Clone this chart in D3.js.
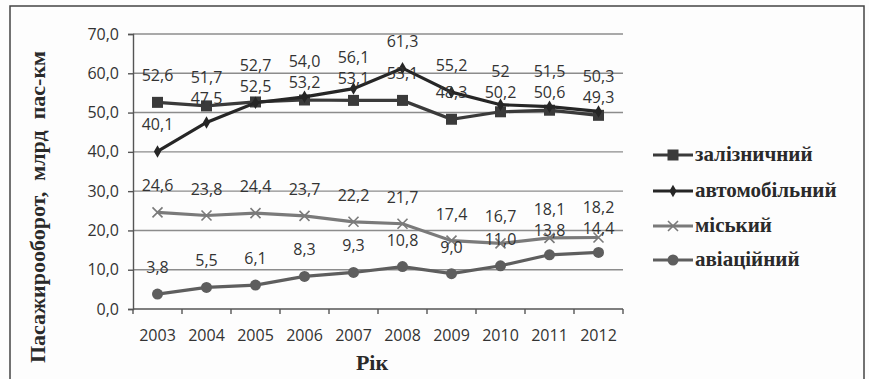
<!DOCTYPE html>
<html>
<head>
<meta charset="utf-8">
<script src="https://cdn.jsdelivr.net/npm/d3@7"></script>
<style>
  body { margin: 0; background: #fff; }
  svg { display: block; }
</style>
</head>
<body>
<div id="chart"></div>
<script>
const years = ["2003", "2004", "2005", "2006", "2007", "2008", "2009", "2010", "2011", "2012"];
const railway = [52.6, 51.7, 52.7, 53.2, 53.1, 53.1, 48.3, 50.2, 50.6, 49.3];
const automobile = [40.1, 47.5, 52.5, 54.0, 56.1, 61.3, 55.2, 52, 51.5, 50.3];
const city = [24.6, 23.8, 24.4, 23.7, 22.2, 21.7, 17.4, 16.7, 18.1, 18.2];
const aviation = [3.8, 5.5, 6.1, 8.3, 9.3, 10.8, 9.0, 11.0, 13.8, 14.4];
const seriesNames = ["залізничний", "автомобільний", "міський", "авіаційний"];
const yTicks = [0, 10, 20, 30, 40, 50, 60, 70];

const width = 869, height = 379;
const plot = { left: 133, right: 623, top: 34, bottom: 309 };
const numFont = "'Open Sans', sans-serif";
const serifFont = "'Liberation Serif', serif";

const series = [
  { name: seriesNames[0], values: railway, color: "#3a3a3a", marker: "square" },
  { name: seriesNames[1], values: automobile, color: "#262626", marker: "diamond" },
  { name: seriesNames[2], values: city, color: "#7a7a7a", marker: "cross" },
  { name: seriesNames[3], values: aviation, color: "#5e5e5e", marker: "circle" }
];

// 52 is shown without a decimal in the source
const fmt = v => v === 52 ? "52" : v.toFixed(1).replace(".", ",");

const svg = d3.select("#chart").append("svg")
  .attr("width", width)
  .attr("height", height);

svg.append("rect")
  .attr("width", width).attr("height", height)
  .attr("fill", "#fdfdfd");

// outer frame
svg.append("rect")
  .attr("x", 10).attr("y", 6)
  .attr("width", 854).attr("height", 390)
  .attr("fill", "none")
  .attr("stroke", "#444")
  .attr("stroke-width", 1.5);

const x = d3.scaleBand().domain(years).range([plot.left, plot.right]);
const y = d3.scaleLinear().domain([0, 70]).range([plot.bottom, plot.top]);

// gridlines
svg.append("g")
  .selectAll("line")
  .data(yTicks.filter(t => t > 0))
  .join("line")
  .attr("x1", plot.left).attr("x2", plot.right)
  .attr("y1", d => y(d)).attr("y2", d => y(d))
  .attr("stroke", "#8c8c8c")
  .attr("stroke-width", 1.4);

// y axis
const yAxis = svg.append("g")
  .attr("transform", `translate(${plot.left},0)`)
  .call(d3.axisLeft(y).tickValues(yTicks).tickSize(5).tickFormat(d => d.toFixed(1).replace(".", ",")));
yAxis.select(".domain").attr("stroke", "#555").attr("stroke-width", 1.4);
yAxis.selectAll(".tick line").attr("stroke", "#555").attr("stroke-width", 1.4);
yAxis.selectAll("text")
  .attr("x", -14)
  .attr("fill", "#333")
  .style("font-family", numFont)
  .style("font-size", "16px");

// x axis, ticks at band boundaries
const xAxis = svg.append("g")
  .attr("transform", `translate(0,${plot.bottom})`);
xAxis.append("line")
  .attr("x1", plot.left).attr("x2", plot.right)
  .attr("stroke", "#555").attr("stroke-width", 1.4);
xAxis.selectAll("line.tk")
  .data(years.concat(["end"]))
  .join("line")
  .attr("class", "tk")
  .attr("x1", (d, i) => plot.left + i * x.bandwidth())
  .attr("x2", (d, i) => plot.left + i * x.bandwidth())
  .attr("y1", 0).attr("y2", 5)
  .attr("stroke", "#555").attr("stroke-width", 1.4);
xAxis.selectAll("text")
  .data(years)
  .join("text")
  .attr("x", d => x(d) + x.bandwidth() / 2)
  .attr("y", 32)
  .attr("text-anchor", "middle")
  .attr("fill", "#333")
  .style("font-family", numFont)
  .style("font-size", "16px")
  .text(d => d);

// axis titles
svg.append("text")
  .attr("x", 372).attr("y", 370)
  .attr("text-anchor", "middle")
  .attr("fill", "#2a2a2a")
  .style("font-family", serifFont)
  .style("font-weight", "bold")
  .style("font-size", "22px")
  .text("Рік");

svg.append("text")
  .attr("transform", "translate(45,207) rotate(-90)")
  .attr("text-anchor", "middle")
  .attr("fill", "#2a2a2a")
  .style("font-family", serifFont)
  .style("font-weight", "bold")
  .style("font-size", "22px")
  .style("white-space", "pre")
  .text("Пасажирооборот,  млрд  пас-км");

const cx = d => x(d) + x.bandwidth() / 2;
const line = d3.line().x((v, i) => cx(years[i])).y(v => y(v));

function drawMarker(g, type, color) {
  if (type === "square") {
    g.append("rect").attr("x", -5.5).attr("y", -5.5).attr("width", 11).attr("height", 11).attr("fill", color);
  } else if (type === "diamond") {
    g.append("path").attr("d", d3.symbol(d3.symbolDiamond, 45)()).attr("fill", color);
  } else if (type === "cross") {
    g.append("path").attr("d", "M-5,-5L5,5M-5,5L5,-5").attr("stroke", color).attr("stroke-width", 1.6);
  } else {
    g.append("circle").attr("r", 5.5).attr("fill", color);
  }
}

series.forEach(s => {
  svg.append("path")
    .datum(s.values)
    .attr("d", line)
    .attr("fill", "none")
    .attr("stroke", s.color)
    .attr("stroke-width", 3.2);
  s.values.forEach((v, i) => {
    const g = svg.append("g").attr("transform", `translate(${cx(years[i])},${y(v)})`);
    drawMarker(g, s.marker, s.color);
  });
});

// data labels: above each point, relaxed apart when labels of one year collide
const labels = [];
series.forEach((s, si) => s.values.forEach((v, i) => {
  labels.push({ year: years[i], v, si, ly: y(v) - 21 });
}));
const minGap = 21;
years.forEach(yr => {
  const group = labels.filter(l => l.year === yr);
  for (let iter = 0; iter < 20; iter++) {
    group.sort((a, b) => a.ly - b.ly);
    let moved = false;
    for (let k = 1; k < group.length; k++) {
      const prev = group[k - 1], cur = group[k];
      const gap = cur.ly - prev.ly;
      if (gap < minGap) {
        const push = (minGap - gap) / 2;
        prev.ly -= push;
        cur.ly += push;
        moved = true;
      }
    }
    if (!moved) break;
  }
});

svg.append("g")
  .selectAll("text")
  .data(labels)
  .join("text")
  .attr("x", d => cx(d.year))
  .attr("y", d => d.ly)
  .attr("text-anchor", "middle")
  .attr("fill", "#333")
  .style("font-family", numFont)
  .style("font-size", "16px")
  .text(d => fmt(d.v));

// legend
const legend = svg.append("g").attr("transform", "translate(653,0)");
const legendY = [155, 191, 226, 260];
series.forEach((s, i) => {
  const row = legend.append("g").attr("transform", `translate(0,${legendY[i]})`);
  row.append("line").attr("x1", 0).attr("x2", 40)
    .attr("stroke", s.color).attr("stroke-width", 3.2);
  drawMarker(row.append("g").attr("transform", "translate(20,0)"), s.marker, s.color);
  row.append("text")
    .attr("x", 42).attr("y", 6)
    .attr("fill", "#2a2a2a")
    .style("font-family", serifFont)
    .style("font-weight", "bold")
    .style("font-size", "21px")
    .text(s.name);
});
</script>
</body>
</html>
